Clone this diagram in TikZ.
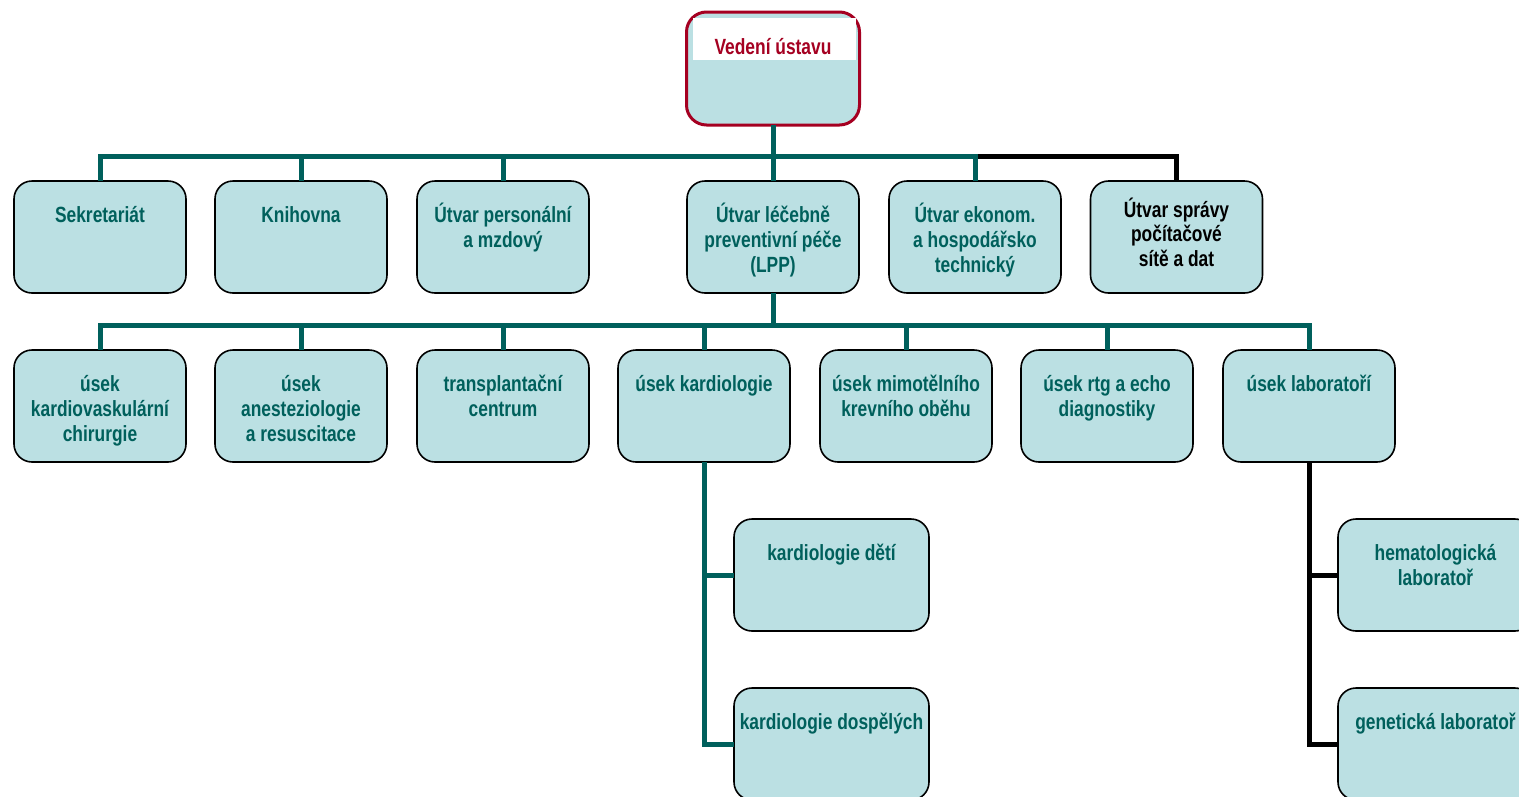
\documentclass[tikz,border=0pt]{standalone}
\usepackage{fontspec}
\setmainfont{Liberation Sans}[FakeStretch=0.79]
\definecolor{boxfill}{RGB}{187,224,227}
\definecolor{tealc}{RGB}{0,96,92}
\definecolor{redc}{RGB}{165,0,33}
\newcommand\bx[3][41.5]{\parbox[c][112pt][t]{#2pt}{\centering\rule{0pt}{#1pt}#3}}
\begin{document}
\begin{tikzpicture}[x=1pt,y=-1pt,
  box/.style={draw=black,line width=1.6pt,fill=boxfill,rounded corners=18pt,
    inner sep=0pt,outer sep=0pt,font=\bfseries\fontsize{22}{25}\selectfont,text=tealc},
  topbox/.style={draw=redc,line width=3pt,fill=boxfill,rounded corners=20pt,
    inner sep=0pt,outer sep=0pt,minimum width=173pt,minimum height=113pt},
  tl/.style={draw=tealc,line width=5pt},
  bk/.style={draw=black,line width=5pt}]
\useasboundingbox (0,0) rectangle (1519,796);
% top
\node[topbox] (top) at (773,68.5) {};
\fill[white] (693,18) rectangle (856,60);
\node[anchor=base,inner sep=0pt,font=\bfseries\fontsize{22}{25}\selectfont,text=redc] (toptext) at (773,54.5) {Vedení ústavu};
% row 1
\node[box] (sek) at (100,237) {\bx{172}{Sekretariát}};
\node[box] (kni) at (301,237) {\bx{172}{Knihovna}};
\node[box] (per) at (503,237) {\bx{172}{Útvar personální\\a mzdový}};
\node[box] (lpp) at (773,237) {\bx{172}{Útvar léčebně\\preventivní péče\\(LPP)}};
\node[box] (eko) at (975,237) {\bx{172}{Útvar ekonom.\\a hospodářsko\\technický}};
\node[box,text=black] (spr) at (1176.5,237) {\bx[36]{172}{\baselineskip=24.5pt Útvar správy\\počítačové\\sítě a dat}};
% row 2
\node[box] (u1) at (100,406) {\bx{172}{úsek\\kardiovaskulární\\chirurgie}};
\node[box] (u2) at (301,406) {\bx{172}{úsek\\anesteziologie\\a resuscitace}};
\node[box] (u3) at (503,406) {\bx{172}{transplantační\\centrum}};
\node[box] (u4) at (704,406) {\bx{172}{úsek kardiologie}};
\node[box] (u5) at (906,406) {\bx{172}{úsek mimotělního\\krevního oběhu}};
\node[box] (u6) at (1107,406) {\bx{172}{úsek rtg a echo\\diagnostiky}};
\node[box] (u7) at (1309,406) {\bx{172}{úsek laboratoří}};
% row 3
\node[box] (kd1) at (831.5,575) {\bx{195}{kardiologie dětí}};
\node[box] (kd2) at (831.5,744) {\bx{195}{kardiologie dospělých}};
\node[box] (lab1) at (1435.5,575) {\bx{195}{hematologická\\laboratoř}};
\node[box] (lab2) at (1435.5,744) {\bx{195}{genetická laboratoř}};
% connectors
\draw[bk] (eko.north) ++(0,-25) -| (spr.north);
\draw[tl] (top.south) -- (lpp.north);
\draw[tl] (sek.north) -- ++(0,-25) -| (eko.north);
\draw[tl] (kni.north) -- ++(0,-25);
\draw[tl] (per.north) -- ++(0,-25);
\draw[tl] (lpp.south) -- ++(0,32);
\draw[tl] (u1.north) -- ++(0,-25) -| (u7.north);
\foreach \n in {u2,u3,u4,u5,u6} \draw[tl] (\n.north) -- ++(0,-25);
\draw[tl] (u4.south) |- (kd2.west);
\draw[tl] (kd1.west) -- (kd1.west -| u4.south);
\draw[bk] (u7.south) |- (lab2.west);
\draw[bk] (lab1.west) -- (lab1.west -| u7.south);
\end{tikzpicture}
\end{document}
